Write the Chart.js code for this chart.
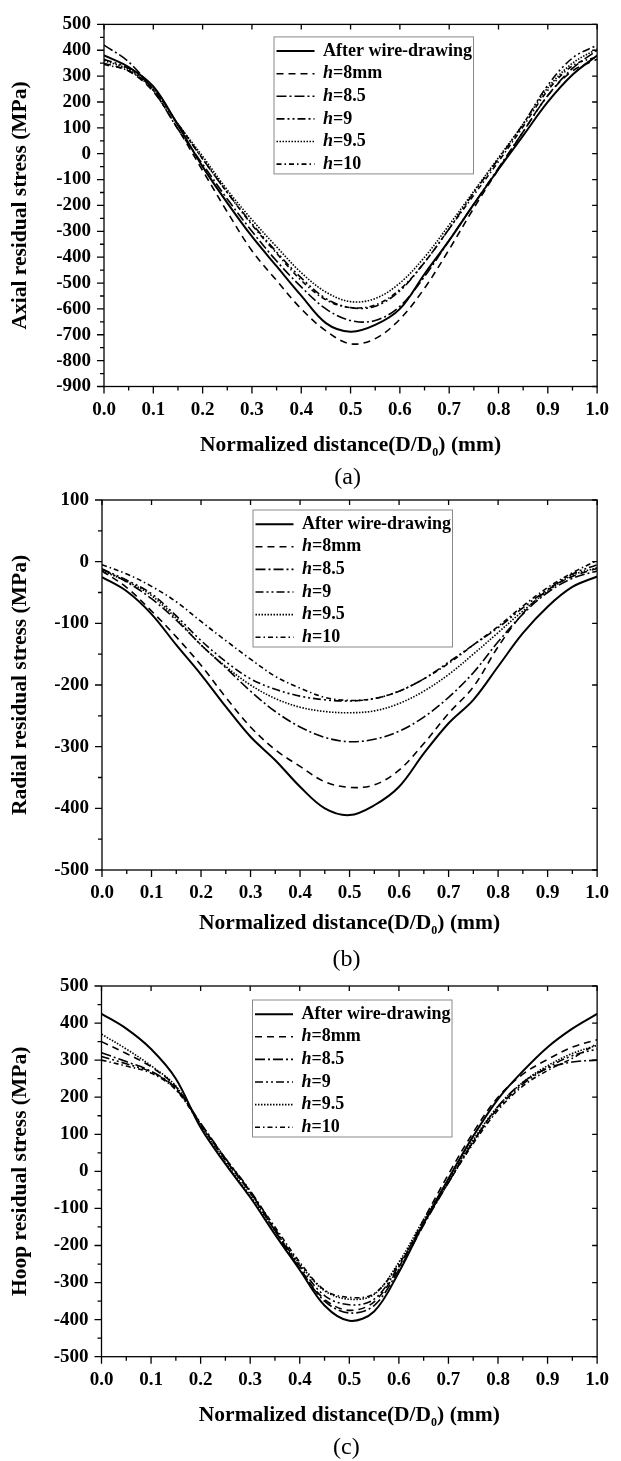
<!DOCTYPE html>
<html><head><meta charset="utf-8">
<script src="https://cdn.jsdelivr.net/npm/chart.js@4.4.1/dist/chart.umd.min.js"></script>
<style>
html,body{margin:0;padding:0;background:#fff;}
#wrap{position:relative;width:621px;height:1461px;overflow:hidden;background:#fff;}
canvas{position:absolute;left:0;}
</style></head><body>
<div id="wrap">
<canvas id="ca" style="top:0px" width="621" height="495"></canvas>
<canvas id="cb" style="top:475px" width="621" height="500"></canvas>
<canvas id="cc" style="top:960px" width="621" height="501"></canvas>
</div>
<script>
// ---------- data ----------
const xValues = [0, 0.05, 0.1, 0.15, 0.2, 0.25, 0.3, 0.35, 0.4, 0.45, 0.5, 0.55, 0.6, 0.65, 0.7, 0.75, 0.8, 0.85, 0.9, 0.95, 1.0];
const seriesLabels = ['After wire-drawing', 'h=8mm', 'h=8.5', 'h=9', 'h=9.5', 'h=10'];

const axialAfter = [380, 335, 260, 110, -50, -190, -320, -435, -549, -655, -688, -662, -600, -465, -335, -195, -60, 70, 200, 305, 380];
const axial8     = [350, 320, 240, 95, -65, -225, -375, -490, -600, -685, -735, -715, -640, -520, -370, -210, -60, 85, 225, 320, 365];
const axial85    = [420, 355, 245, 95, -40, -175, -300, -415, -515, -600, -645, -645, -590, -475, -335, -195, -55, 85, 225, 330, 400];
const axial9     = [365, 330, 250, 115, -20, -150, -270, -380, -480, -560, -595, -590, -530, -420, -290, -150, -20, 115, 265, 370, 420];
const axial95    = [360, 325, 245, 115, -10, -140, -255, -360, -460, -535, -572, -560, -500, -400, -275, -145, -15, 115, 255, 350, 405];
const axial10    = [345, 320, 250, 115, -20, -150, -275, -385, -490, -565, -595, -585, -525, -420, -290, -160, -30, 105, 245, 340, 375];

const radialAfter = [-25, -48, -85, -135, -183, -235, -284, -322, -365, -400, -411, -395, -365, -311, -262, -224, -170, -116, -73, -41, -24];
const radial8     = [-15, -42, -80, -122, -168, -220, -268, -305, -332, -357, -366, -362, -338, -295, -246, -203, -138, -84, -46, -24, -11];
const radial85    = [-12, -33, -60, -95, -135, -172, -210, -243, -268, -285, -292, -288, -275, -252, -220, -180, -130, -85, -50, -27, -15];
const radial9     = [-12, -30, -52, -88, -128, -162, -190, -207, -218, -224, -226, -222, -210, -190, -163, -135, -107, -75, -45, -20, -5];
const radial95    = [-15, -32, -55, -92, -135, -170, -200, -222, -236, -243, -245, -242, -230, -210, -183, -150, -115, -80, -48, -22, -10];
const radial10    = [-5, -20, -40, -65, -97, -128, -158, -186, -205, -220, -225, -222, -210, -190, -165, -135, -105, -72, -42, -18, 2];

const hoopAfter = [425, 385, 330, 250, 118, 20, -70, -170, -266, -362, -403, -378, -272, -140, -20, 95, 195, 270, 335, 385, 425];
const hoop8     = [350, 318, 282, 228, 128, 32, -58, -160, -262, -345, -375, -352, -258, -130, -8, 105, 200, 262, 302, 335, 355];
const hoop85    = [320, 296, 270, 225, 130, 35, -55, -160, -262, -350, -382, -362, -265, -145, -30, 80, 175, 240, 278, 295, 300];
const hoop9     = [310, 290, 268, 222, 128, 35, -52, -155, -255, -335, -360, -345, -255, -140, -30, 80, 170, 235, 280, 312, 330];
const hoop95    = [370, 330, 285, 230, 125, 25, -65, -160, -250, -322, -345, -332, -245, -130, -25, 85, 175, 240, 285, 318, 340];
const hoop10    = [300, 284, 265, 220, 125, 30, -55, -150, -245, -320, -340, -330, -250, -140, -30, 75, 165, 230, 272, 305, 345];

const axialTicks = [-900, 500];
const radialTicks = [-500, 100];
const hoopTicks = [-500, 500];
const xTitle = ['Normalized distance(D/D', '0', ') (mm)'];

// ---------- styles ----------
const dashes = [[], [7, 5], [10, 3, 2, 3], [8, 3, 2, 3, 2, 3], [1.5, 1.5], [5, 3, 1.5, 3]];
const widths = [2, 1.6, 1.6, 1.6, 1.6, 1.6];
const SERIF = '"Liberation Serif", "Times New Roman", serif';

function makeDatasets(arrs) {
  return arrs.map((arr, i) => ({
    label: seriesLabels[i],
    data: xValues.map((x, j) => ({x: x, y: arr[j]})),
    borderColor: '#000',
    borderWidth: widths[i],
    borderDash: dashes[i],
    pointRadius: 0,
    fill: false,
    tension: 0.35
  }));
}

const decorPlugin = {
  id: 'decor',
  afterDraw(chart, args, o) {
    const ctx = chart.ctx, a = chart.chartArea, xs = chart.scales.x, ys = chart.scales.y;
    ctx.save();
    ctx.strokeStyle = '#000';
    ctx.lineWidth = 1.3;
    ctx.setLineDash([]);
    ctx.strokeRect(a.left, a.top, a.right - a.left, a.bottom - a.top);
    // x ticks
    const xv = xs.ticks.map(t => t.value);
    ctx.beginPath();
    xv.forEach((v, i) => {
      const p = xs.getPixelForValue(v);
      ctx.moveTo(p, a.bottom); ctx.lineTo(p, a.bottom + 7);
      ctx.moveTo(p, a.top); ctx.lineTo(p, a.top + 5);
      if (i < xv.length - 1) {
        const m = xs.getPixelForValue((v + xv[i + 1]) / 2);
        ctx.moveTo(m, a.bottom); ctx.lineTo(m, a.bottom + 4);
      }
    });
    const yv = ys.ticks.map(t => t.value);
    yv.forEach((v, i) => {
      const p = ys.getPixelForValue(v);
      ctx.moveTo(a.left, p); ctx.lineTo(a.left - 7, p);
      ctx.moveTo(a.right, p); ctx.lineTo(a.right - 5, p);
      if (i < yv.length - 1) {
        const m = ys.getPixelForValue((v + yv[i + 1]) / 2);
        ctx.moveTo(a.left, m); ctx.lineTo(a.left - 4, m);
      }
    });
    ctx.stroke();

    // legend
    const L = o.legend;
    const bx = a.left + L.dx, by = a.top + L.dy;
    ctx.lineWidth = 1;
    ctx.strokeStyle = '#8a8a8a';
    ctx.strokeRect(bx, by, L.w, L.h);
    ctx.textBaseline = 'middle';
    ctx.textAlign = 'left';
    chart.data.datasets.forEach((ds, i) => {
      const cy = by + L.first + i * L.step;
      ctx.strokeStyle = '#000';
      ctx.lineWidth = ds.borderWidth;
      ctx.setLineDash(ds.borderDash);
      ctx.beginPath();
      ctx.moveTo(bx + 2.5, cy); ctx.lineTo(bx + 40.5, cy);
      ctx.stroke();
      ctx.setLineDash([]);
      ctx.fillStyle = '#000';
      let tx = bx + 49;
      const lab = ds.label;
      if (lab.startsWith('h=')) {
        ctx.font = 'italic bold 18px ' + SERIF;
        ctx.fillText('h', tx, cy);
        tx += ctx.measureText('h').width;
        ctx.font = 'bold 18px ' + SERIF;
        ctx.fillText(lab.slice(1), tx, cy);
      } else {
        ctx.font = 'bold 18px ' + SERIF;
        ctx.fillText(lab, tx, cy);
      }
    });

    // x title with subscript
    const cx = (a.left + a.right) / 2;
    const ty = a.bottom + o.xTitleDy;
    const fMain = 'bold 21.5px ' + SERIF, fSub = 'bold 12px ' + SERIF;
    ctx.font = fMain; const w1 = ctx.measureText(xTitle[0]).width, w3 = ctx.measureText(xTitle[2]).width;
    ctx.font = fSub; const w2 = ctx.measureText(xTitle[1]).width;
    let sx = cx - (w1 + w2 + w3) / 2;
    ctx.textBaseline = 'middle';
    ctx.font = fMain; ctx.fillText(xTitle[0], sx, ty); sx += w1;
    ctx.font = fSub; ctx.fillText(xTitle[1], sx, ty + 8); sx += w2;
    ctx.font = fMain; ctx.fillText(xTitle[2], sx, ty);

    // caption
    ctx.font = '24px ' + SERIF;
    ctx.textAlign = 'center';
    ctx.fillText(o.caption, cx - 3, a.bottom + o.captionDy);
    ctx.restore();
  }
};

function makeChart(id, geo, arrs, yRange, yTitle, extra) {
  const canvas = document.getElementById(id);
  const H = canvas.height;
  return new Chart(canvas, {
    type: 'line',
    data: {datasets: makeDatasets(arrs)},
    plugins: [decorPlugin],
    options: {
      responsive: false,
      animation: false,
      devicePixelRatio: 1,
      layout: {padding: {left: 0, top: geo.t, right: 621 - geo.r, bottom: 0}},
      plugins: {legend: {display: false}, tooltip: {enabled: false}, decor: extra},
      scales: {
        x: {
          type: 'linear', min: 0, max: 1,
          grid: {display: false, drawTicks: false},
          border: {display: false},
          ticks: {stepSize: 0.1, autoSkip: false, maxRotation: 0, padding: 12, color: '#000',
                  font: {family: SERIF, size: 19, weight: 'bold'},
                  callback: v => v.toFixed(1)},
          afterFit: s => { s.height = H - geo.b; }
        },
        y: {
          type: 'linear', min: yRange[0], max: yRange[1],
          grid: {display: false, drawTicks: false},
          border: {display: false},
          ticks: {stepSize: 100, autoSkip: false, padding: 13, color: '#000',
                  font: {family: SERIF, size: 19, weight: 'bold'},
                  callback: v => String(v)},
          title: {display: true, text: yTitle, color: '#000', padding: {top: 8, bottom: 0},
                  font: {family: SERIF, size: 21.5, weight: 'bold'}},
          afterFit: s => { s.width = geo.l; }
        }
      }
    }
  });
}

const legendGeo = {w: 199.5, h: 137, first: 14.2, step: 22.6};

makeChart('ca', {l: 104, r: 608, t: 15, b: 386.5},
  [axialAfter, axial8, axial85, axial9, axial95, axial10], axialTicks, 'Axial residual stress (MPa)',
  {legend: Object.assign({dx: 170, dy: 12.5}, legendGeo), xTitleDy: 58.5, captionDy: 91.5, caption: '(a)'});

makeChart('cb', {l: 102, r: 605, t: 25, b: 395},
  [radialAfter, radial8, radial85, radial9, radial95, radial10], radialTicks, 'Radial residual stress (MPa)',
  {legend: Object.assign({dx: 151, dy: 10}, legendGeo), xTitleDy: 53, captionDy: 90, caption: '(b)'});

makeChart('cc', {l: 101.5, r: 605, t: 26, b: 396.7},
  [hoopAfter, hoop8, hoop85, hoop9, hoop95, hoop10], hoopTicks, 'Hoop residual stress (MPa)',
  {legend: Object.assign({dx: 151, dy: 14}, legendGeo), xTitleDy: 58.3, captionDy: 91.3, caption: '(c)'});
</script>
</body></html>
